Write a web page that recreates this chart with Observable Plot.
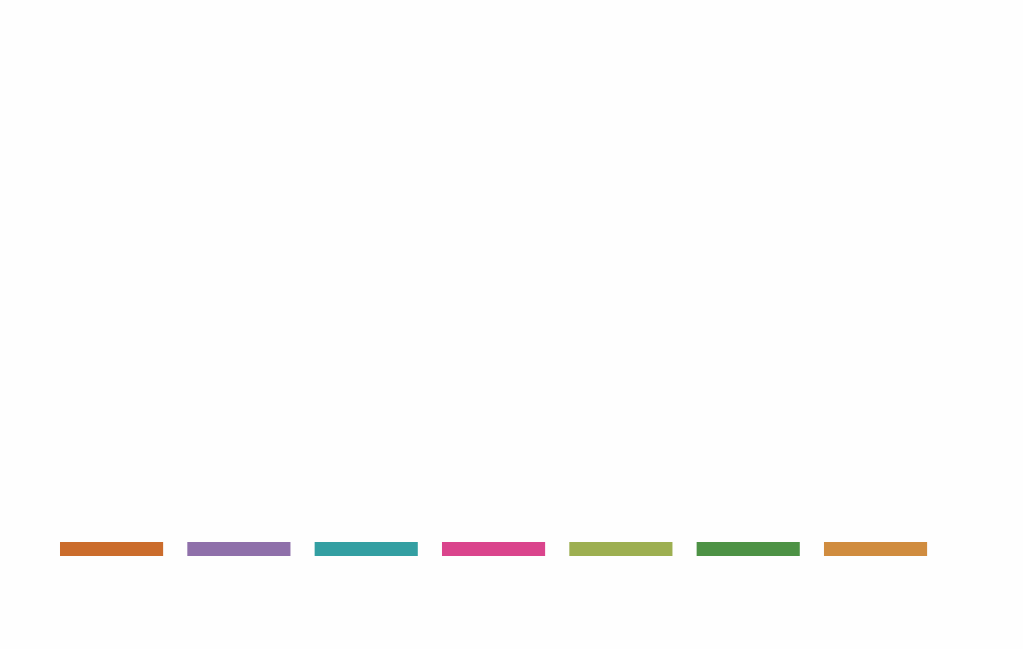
<!DOCTYPE html>
<html>
<head>
<meta charset="utf-8">
<script src="https://cdn.jsdelivr.net/npm/d3@7"></script>
<script src="https://cdn.jsdelivr.net/npm/@observablehq/plot@0.6"></script>
<style>
  html, body { margin: 0; padding: 0; background: #fefefe; overflow: hidden; }
  #chart svg { display: block; background: #fefefe; }
</style>
</head>
<body>
<div id="chart"></div>
<script>
const categories = ["Series 1", "Series 2", "Series 3", "Series 4", "Series 5", "Series 6", "Series 7"];
const values = [1, 1, 1, 1, 1, 1, 1];
const colors = ["#cb6c2c", "#8f70aa", "#339fa2", "#da448c", "#9daf51", "#4d9245", "#d08c3f"];

const data = categories.map((c, i) => ({category: c, value: values[i]}));

const chart = Plot.plot({
  width: 1023,
  height: 649,
  marginLeft: 35.8,
  marginRight: 71.7,
  marginTop: 0,
  marginBottom: 0,
  style: {background: "#fefefe"},
  x: {domain: categories, padding: 0.19, round: false, axis: null},
  y: {domain: [0, 1], range: [556, 542], axis: null},
  color: {domain: categories, range: colors},
  marks: [
    Plot.barY(data, {x: "category", y: "value", fill: "category"})
  ]
});
document.getElementById("chart").appendChild(chart);
</script>
</body>
</html>
